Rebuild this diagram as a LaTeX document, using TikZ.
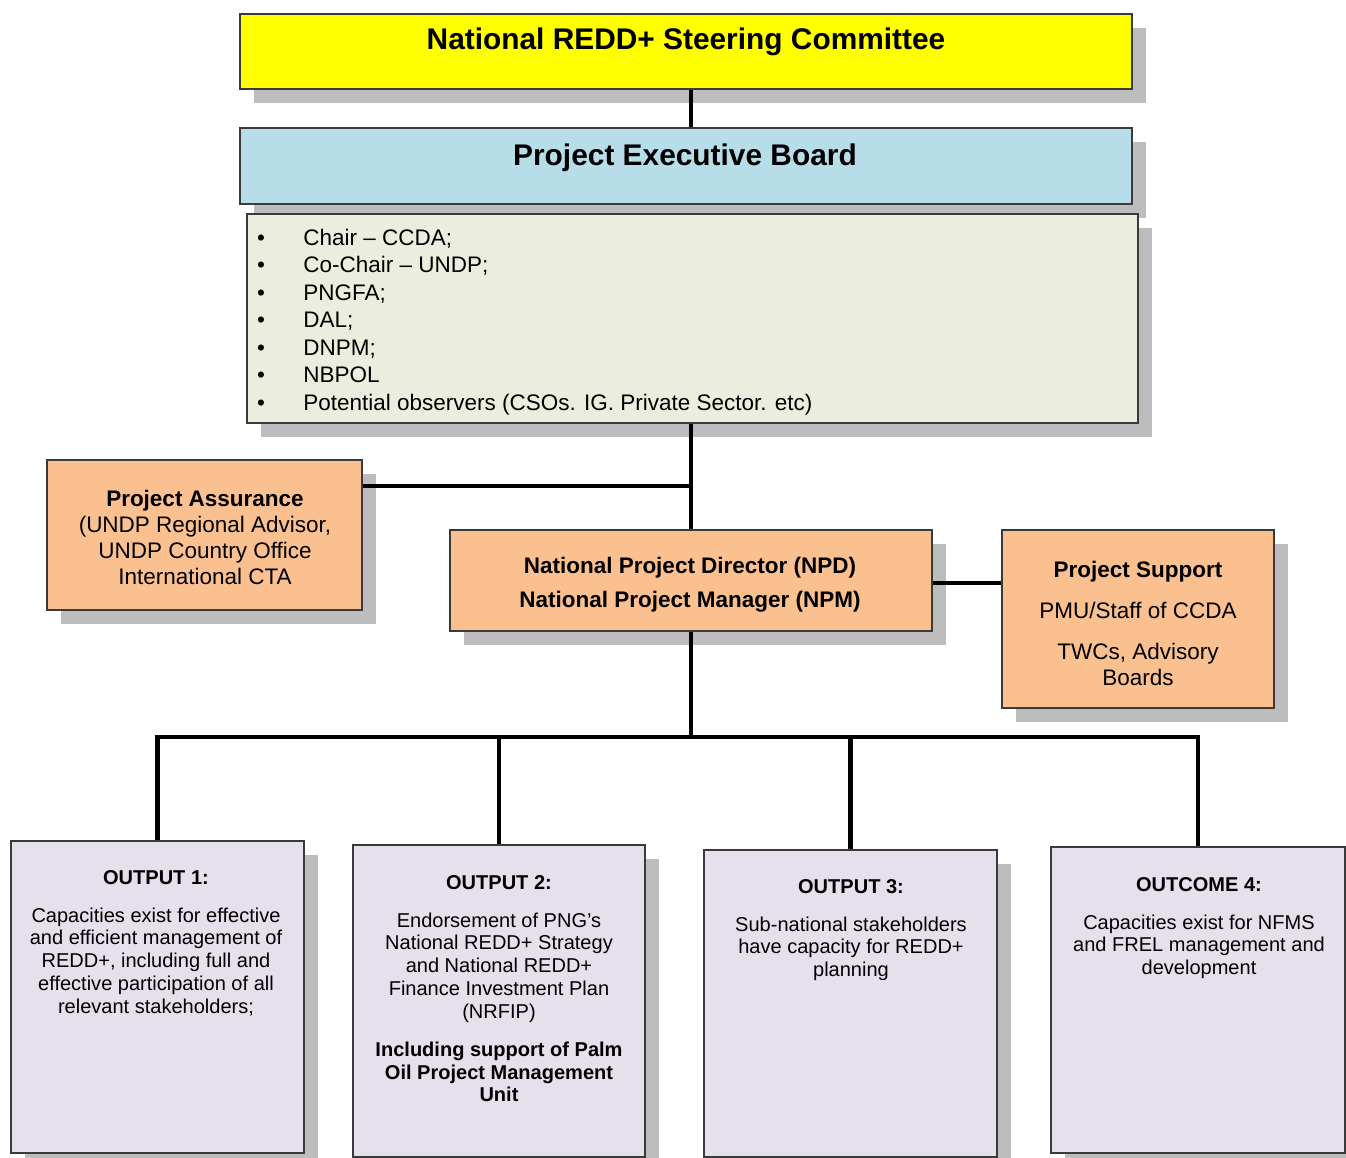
\documentclass[tikz,border=0pt]{standalone}
\usepackage{fontspec}
\setmainfont{Liberation Sans}
\usetikzlibrary{positioning,shadows}
\definecolor{cmtyellow}{HTML}{FFFF00}
\definecolor{boardblue}{HTML}{B7DEE8}
\definecolor{listgreen}{HTML}{EBEEDE}
\definecolor{mgmtorange}{HTML}{FAC090}
\definecolor{outlilac}{HTML}{E5E0EC}
\definecolor{shadowgrey}{HTML}{BDBDBD}
\definecolor{edgegrey}{HTML}{3A3A3A}

\begin{document}
\begin{tikzpicture}[x=0.02cm, y=-0.02cm,
   box/.style={draw=edgegrey, line width=1.1pt, inner sep=0pt,
     general shadow={fill=shadowgrey, shadow xshift=2.8mm, shadow yshift=-2.8mm}},
   txt/.style={align=center, inner sep=0pt},
   head/.style={txt, font=\fontsize{17}{20}\selectfont\bfseries},
   mid/.style={txt, font=\fontsize{12.8}{14.8}\selectfont},
   outtxt/.style={txt, anchor=north, font=\fontsize{11.4}{13}\selectfont},
   link/.style={line width=2.4pt}]
   \useasboundingbox (0,0) rectangle (1346,1158);
   \node[box, fill=cmtyellow, minimum width=17.84cm, minimum height=1.5cm] (cmt) at (686,51.5) {};
   \node[head] (cmtt) at (686,42) {National REDD+ Steering Committee};
   \node[box, fill=boardblue, minimum width=17.84cm, minimum height=1.52cm] (board) at (686,166) {};
   \node[head] (boardt) at (685,158) {Project Executive Board};
   \node[box, fill=listgreen, minimum width=17.82cm, minimum height=4.18cm] (list) at (692.5,318.5) {};
   \foreach \t [count=\i] in {Chair -- CCDA;, Co-Chair -- UNDP;, PNGFA;, DAL;, DNPM;, NBPOL,
       {Potential observers (CSOs. IG. Private Sector. etc)}} {
     \node[mid, anchor=base] (dot\i) at (261,{218+27.5*\i}) {\textbullet};
     \node[mid, anchor=base west] (item\i) at (303,{218+27.5*\i}) {\t};
   }
   \node[box, fill=mgmtorange, minimum width=6.3cm, minimum height=3cm] (pa) at (204.5,535) {};
   \node[mid] (pat) at (205,537) {\textbf{Project Assurance}\\(UNDP Regional Advisor,\\UNDP Country Office\\International CTA};
   \node[box, fill=mgmtorange, minimum width=9.64cm, minimum height=2.02cm] (npd) at (691,580.5) {};
   \node[txt, font=\fontsize{12.8}{19.3}\selectfont\bfseries] (npdt) at (690,585)
     {National Project Director (NPD)\\National Project Manager (NPM)};
   \node[box, fill=mgmtorange, minimum width=5.44cm, minimum height=3.56cm] (ps) at (1138,619) {};
   \node[mid] (pst) at (1138,623) {\textbf{Project Support}\\[0.3cm]PMU/Staff of CCDA\\[0.3cm]TWCs, Advisory\\Boards};
   \node[box, fill=outlilac, minimum width=5.86cm, minimum height=6.24cm] (o1) at (157.5,997) {};
   \node[box, fill=outlilac, minimum width=5.84cm, minimum height=6.24cm] (o2) at (499,1001) {};
   \node[box, fill=outlilac, minimum width=5.86cm, minimum height=6.14cm] (o3) at (850.5,1003.5) {};
   \node[box, fill=outlilac, minimum width=5.88cm, minimum height=6.12cm] (o4) at (1198,1000) {};
   \node[outtxt] (o1t) at (156,870) {\textbf{OUTPUT 1:}\\[8.5pt]Capacities exist for effective\\and efficient management of\\REDD+, including full and\\effective participation of all\\relevant stakeholders;};
   \node[outtxt] (o2t) at (499,875) {\textbf{OUTPUT 2:}\\[8.5pt]Endorsement of PNG’s\\National REDD+ Strategy\\and National REDD+\\Finance Investment Plan\\(NRFIP)\\[8.5pt]\textbf{Including support of Palm}\\\textbf{Oil Project Management}\\\textbf{Unit}};
   \node[outtxt] (o3t) at (851,879) {\textbf{OUTPUT 3:}\\[8.5pt]Sub-national stakeholders\\have capacity for REDD+\\planning};
   \node[outtxt] (o4t) at (1199,877) {\textbf{OUTCOME 4:}\\[8.5pt]Capacities exist for NFMS\\and FREL management and\\development};
   \coordinate (spine) at (691,0);
   \coordinate (paj) at (691,486);
   \coordinate (bus) at (691,737);
   \draw[link] (cmt.south -| spine) -- (board.north -| spine);
   \draw[link] (list.south -| spine) -- (npd.north -| spine);
   \draw[link] (pa.east |- paj) -- (paj);
   \draw[link] (npd.east |- 0,583) -- (ps.west |- 0,583);
   \draw[link] (npd.south -| spine) -- (bus);
   \draw[link] (o1.north) |- (bus) -| (o4.north);
   \foreach \o in {o2,o3} \draw[link] (\o.north |- bus) -- (\o.north);
\end{tikzpicture}
\end{document}
